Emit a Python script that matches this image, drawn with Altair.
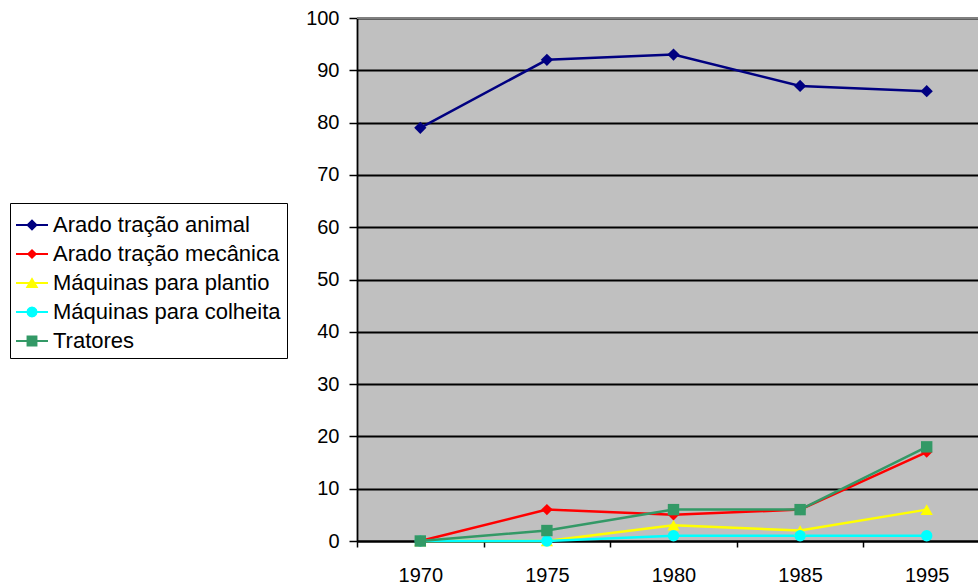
import altair as alt
import pandas as pd

# Census years and share (%) of farms using each kind of equipment
years = ["1970", "1975", "1980", "1985", "1995"]
series_names = [
    "Arado tração animal",
    "Arado tração mecânica",
    "Máquinas para plantio",
    "Máquinas para colheita",
    "Tratores",
]
arado_animal = [79, 92, 93, 87, 86]
arado_mecanica = [0, 6, 5, 6, 17]
maquinas_plantio = [0, 0, 3, 2, 6]
maquinas_colheita = [0, 0, 1, 1, 1]
tratores = [0, 2, 6, 6, 18]
y_ticks = list(range(0, 101, 10))

series_colors = ["#000080", "#FF0000", "#FFFF00", "#00FFFF", "#339966"]
marker_shapes = ["diamond", "diamond", "triangle-up", "circle", "square"]
marker_sizes = [150, 130, 150, 130, 130]
# legend keys: a thin bar (the line) with the series marker in its middle
BAR = "M-1,-0.07L1,-0.07L1,0.07L-1,0.07Z"
legend_shapes = [
    BAR + "M0,-0.36L0.36,0L0,0.36L-0.36,0Z",
    BAR + "M0,-0.32L0.32,0L0,0.32L-0.32,0Z",
    BAR + "M0,-0.36L0.4,0.32L-0.4,0.32Z",
    BAR + "M0.35,0L0.303,0.175L0.175,0.303L0,0.35L-0.175,0.303L-0.303,0.175"
          "L-0.35,0L-0.303,-0.175L-0.175,-0.303L0,-0.35L0.175,-0.303L0.303,-0.175Z",
    BAR + "M-0.34,-0.34L0.34,-0.34L0.34,0.34L-0.34,0.34Z",
]

all_values = [arado_animal, arado_mecanica, maquinas_plantio, maquinas_colheita, tratores]
rows = []
for name, color, vals in zip(series_names, series_colors, all_values):
    for yr, v in zip(years, vals):
        rows.append({"ano": yr, "serie": name, "cor": color, "valor": v})
df = pd.DataFrame(rows)

FONT = "Liberation Sans"

x_enc = alt.X(
    "ano:O",
    sort=years,
    scale=alt.Scale(type="band", domain=years, range=[0, 633], paddingInner=0, paddingOuter=0),
    axis=alt.Axis(
        title=None,
        labelAngle=0,
        tickBand="extent",
        grid=False,
        domainColor="black",
        domainWidth=1.8,
        tickColor="black",
        tickWidth=1.5,
        tickSize=6,
        labelFont=FONT,
        labelFontSize=20,
        labelColor="black",
        labelPadding=18,
    ),
)
y_enc = alt.Y(
    "valor:Q",
    scale=alt.Scale(domain=[0, 100], nice=False),
    axis=alt.Axis(
        title=None,
        values=y_ticks,
        grid=True,
        gridColor="black",
        gridWidth=1.8,
        gridOpacity=1,
        domainColor="black",
        domainWidth=1.8,
        tickColor="black",
        tickWidth=1.5,
        tickSize=8,
        labelFont=FONT,
        labelFontSize=20,
        labelColor="black",
        labelPadding=10,
    ),
)

# series lines, coloured straight from the "cor" column (no scale, no legend)
lines = alt.Chart(df).mark_line(strokeWidth=2.5).encode(
    x=x_enc,
    y=y_enc,
    color=alt.Color("cor:N", scale=None),
    detail="serie:N",
)

# one marker layer per series, each with its own symbol
marker_layers = []
for name, shp, sz in zip(series_names, marker_shapes, marker_sizes):
    marker_layers.append(
        alt.Chart(df)
        .transform_filter(alt.datum.serie == name)
        .mark_point(filled=True, opacity=1, size=sz, shape=shp)
        .encode(
            x=alt.X("ano:O", sort=years),
            y="valor:Q",
            color=alt.Color("cor:N", scale=None),
        )
    )

# top border of the plot area
top_border = alt.Chart(pd.DataFrame({"v": [100]})).mark_rule(
    color="#808080", strokeWidth=2
).encode(y="v:Q")

# invisible marks that only carry the legend (line + marker keys)
key_layer = (
    alt.Chart(df)
    .mark_point(opacity=0, filled=True)
    .encode(
        x=alt.X("ano:O", sort=years),
        y="valor:Q",
        color=alt.Color("serie:N", scale=alt.Scale(domain=series_names, range=series_colors),
                        legend=alt.Legend(title=None)),
        shape=alt.Shape("serie:N", scale=alt.Scale(domain=series_names, range=legend_shapes),
                        legend=alt.Legend(title=None)),
    )
)

chart = (
    alt.layer(lines, *marker_layers, top_border, key_layer)
    .properties(
        width=621,
        height=523,
        autosize=alt.AutoSizeParams(type="none"),
        padding={"left": 357, "top": 18, "right": 0, "bottom": 43},
        background="white",
    )
    .configure_view(fill="#C0C0C0", stroke=None)
    .configure_legend(
        orient="none",
        legendX=-347,
        legendY=185,
        symbolSize=1024,
        symbolStrokeWidth=0,
        labelFont=FONT,
        labelFontSize=22,
        labelColor="black",
        labelLimit=400,
        labelOffset=5,
        rowPadding=2,
        padding=6,
        strokeColor="black",
        fillColor="white",
        cornerRadius=0,
    )
)

chart.save("out.html", embed_options={"renderer": "svg", "actions": False})
